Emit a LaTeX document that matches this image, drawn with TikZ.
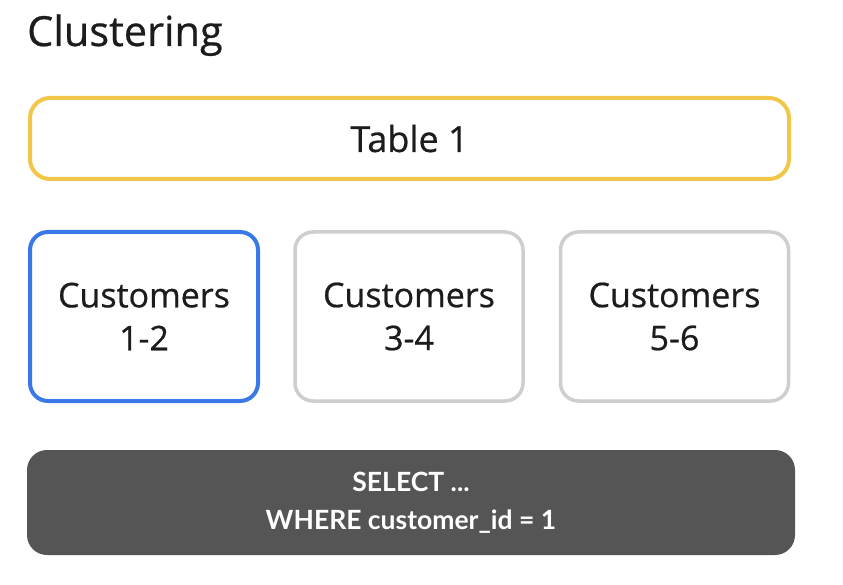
\documentclass[tikz,border=0pt]{standalone}
\usepackage{fontspec}
\setmainfont[FakeBold=0.6]{Open Sans}
\newfontfamily\sqlfont{Lato}
\definecolor{gyellow}{RGB}{242,198,72}
\definecolor{gblue}{RGB}{59,120,231}
\definecolor{ggray}{RGB}{206,206,206}
\definecolor{gdark}{RGB}{85,85,85}
\definecolor{gtext}{RGB}{28,28,30}
\tikzset{
  tablebox/.style={draw=gyellow, line width=4pt, rounded corners=20pt, minimum width=759pt, minimum height=81pt, inner sep=0pt, font=\fontsize{36}{44}\selectfont, text=gtext},
  custbox/.style={line width=4pt, rounded corners=18pt, minimum width=228pt, minimum height=169pt, inner sep=0pt, align=center, font=\fontsize{34}{43}\selectfont, text=gtext},
  querybox/.style={fill=gdark, rounded corners=20pt, minimum width=768pt, minimum height=105pt, inner sep=0pt, align=center, text=white, font=\sqlfont\bfseries\fontsize{26.5}{38}\selectfont},
}
\begin{document}
\begin{tikzpicture}[x=1pt,y=-1pt]
\useasboundingbox[fill=white] (0,0) rectangle (843,585);
\node[anchor=base west, inner sep=0pt, font=\fontsize{41.5}{48}\selectfont, text=gtext] (title) at (27,46) {Clustering};
\node[tablebox] (table) at (409.5,138.5) {Table 1};
\node[custbox, draw=gblue] (c1) at (144,316.5) {Customers\\1-2};
\node[custbox, draw=ggray, line width=3.5pt] (c2) at (409,316.5) {Customers\\3-4};
\node[custbox, draw=ggray, line width=3.5pt] (c3) at (674.5,316.5) {Customers\\5-6};
\node[querybox] (query) at (411,502.5) {SELECT ...\\WHERE customer\_id = 1};
\end{tikzpicture}
\end{document}
